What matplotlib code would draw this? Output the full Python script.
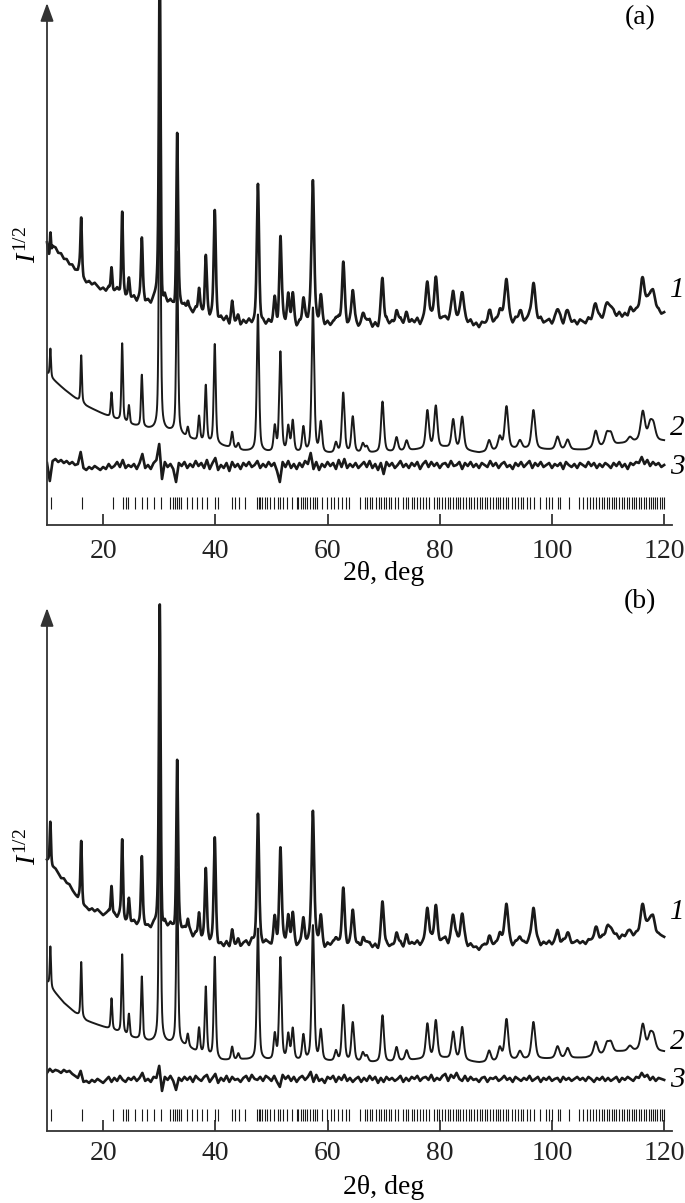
import numpy as np
import matplotlib
matplotlib.use('Agg')
import matplotlib.pyplot as plt

# шрифты: Times-подобный, I курсивом
plt.rcParams['font.family'] = ['Liberation Serif', 'DejaVu Serif']
plt.rcParams['mathtext.fontset'] = 'custom'
plt.rcParams['mathtext.rm'] = 'Liberation Serif'
plt.rcParams['mathtext.it'] = 'Liberation Serif:italic'

# ---------------- данные (I^1/2, усл. ед.) ----------------
peak_pos = [10.6, 16.1, 21.5, 23.4, 24.6, 26.9, 30.1, 33.2, 35.1, 37.1,
            38.3, 39.9, 43.0, 44.1, 47.6, 50.6, 51.6, 53.0, 53.8, 55.7,
            57.4, 58.8, 61.5, 62.8, 64.5, 66.3, 67.0, 69.8, 72.3, 74.1,
            77.8, 79.3, 82.4, 84.0, 88.8, 90.7, 91.9, 94.3, 96.7, 101.0,
            102.8, 107.8, 109.8, 110.5, 113.9, 116.2, 117.5, 118.1]
peak_h_a = [28, 47, 25, 78, 18, 52, 330, 182, 10, 25,
            57, 100, 16, 6, 137, 25, 100, 25, 31, 25,
            145, 30, 10, 60, 36, 9, 6, 51, 14, 10,
            38, 42, 29, 33, 11, 13, 43, 8, 39, 13,
            10, 17, 12, 11, 5, 29, 15, 14]
peak_h_b = [40, 55, 31, 79, 22, 63, 314, 175, 12, 25,
            68, 101, 13, 6, 131, 25, 102, 25, 31, 25,
            135, 30, 10, 56, 39, 9, 6, 47, 14, 10,
            35, 38, 27, 33, 11, 13, 41, 8, 37, 12,
            10, 14, 10, 10, 5, 26, 14, 13]

bg_deg = [10, 11, 13, 15, 17, 20, 22, 25, 28, 32, 35, 37, 41, 45,
          50, 60, 70, 76, 81, 87, 90, 94, 100, 106, 112, 116, 120]
bg_a = [152, 146, 136, 127, 119, 111, 106, 100, 96, 93, 87, 83, 79, 74,
        72, 71, 72, 75, 77, 72, 74, 76, 75, 75, 81, 84, 84]
bg_b = [149, 141, 128, 118, 110, 104, 100, 93, 89, 87, 84, 77, 70, 71,
        70, 69, 68, 71, 72, 68, 69, 71, 72, 73, 79, 80, 79]

# разностная кривая, шаг 0.5 град от 10 до 120
diff_a = [2, -16, 4, 6, 3, 5, 2, 4, 1, 3,
          0, 1, 13, -3, -5, -2, -4, -1, -3, -5,
          -2, -4, 1, -3, -1, 3, -2, 5, -3, 0,
          -2, 1, -4, 2, 11, -3, 0, -4, 2, 5,
          21, -14, 3, -2, 1, -4, -17, 2, -1, 3,
          -3, 1, -2, 4, -1, 2, -3, 5, -4, 2,
          7, -5, 0, -3, 2, -6, 3, -2, 1, -4,
          2, -1, 3, -2, 0, 4, -3, 1, -2, 3,
          -1, 2, -6, -17, 3, -2, 4, -3, 1, -4,
          2, -2, 4, 1, 12, -4, 3, -5, 1, -2,
          3, -1, 2, -4, 5, -2, 6, -3, 1, -2,
          2, -3, 0, 3, -2, 4, -3, 1, -5, 2,
          -9, 3, -1, 2, -3, 0, 4, -2, 1, -3,
          2, -1, 3, -4, 1, 4, -2, 3, -1, 2,
          -3, 1, 2, -2, 4, -1, 0, 3, -4, 2,
          -1, 3, -2, 1, -3, 2, 0, -2, 4, -1,
          2, -3, 1, 3, -2, 0, -4, 2, -1, 3,
          -2, 1, 4, -3, 2, -1, 3, -2, 0, 2,
          -3, 1, -1, 2, -4, 3, 0, -2, 1, -3,
          2, 0, -2, 3, -1, 2, -3, 1, -2, 2,
          0, -3, 2, -1, 3, -2, 1, -4, 2, 0,
          3, 2, 8, 1, 5, -1, 3, 0, 2, -2,
          0]
diff_b = [6, 10, 7, 9, 8, 6, 9, 7, 8, 5,
          3, 1, 8, -3, -2, -4, -1, -3, 0, -2,
          -4, -1, 2, -3, 1, -2, 3, -1, -3, 1,
          -1, 2, -2, 1, 6, -2, 0, -3, 2, 1,
          13, -12, 2, -1, 3, -2, -11, 1, -2, 2,
          -1, 2, -3, 3, 0, -2, 2, 4, -3, 1,
          5, -4, 1, -2, 3, -3, 2, -1, 0, -3,
          1, 3, -2, 4, 0, -1, 2, -2, 3, 1,
          -2, 3, -3, -8, 4, 0, 3, -2, 2, -3,
          1, 3, -1, 2, 7, -3, 4, -2, 0, -4,
          2, 0, 3, -3, 2, -1, 4, -2, 1, -3,
          0, 2, -3, 1, -2, 3, -1, 2, -4, 1,
          -3, 2, -1, 1, -2, 0, 3, -3, 1, -2,
          2, 0, 3, -2, 1, 2, -1, 4, -2, 1,
          -1, 3, 5, -2, 4, 1, 6, 0, -2, 3,
          -2, 2, -1, 0, -3, 1, 2, -3, 1, 0,
          2, -2, 0, 3, -1, 1, -3, 2, 0, -2,
          1, -1, 3, -2, 0, 2, -3, 1, -1, 2,
          -2, 0, 1, -3, 2, -1, 1, -2, 0, 2,
          -1, 1, -2, 2, 0, -3, 1, -1, 2, -2,
          1, -2, 0, 2, -3, 1, -1, 2, 0, -2,
          2, 1, 6, 2, 4, -1, 2, -2, 1, 0,
          -1]

# положения брэгговских рефлексов (штрихи)
refl_pos = [10.7, 16.2, 21.7, 23.5, 24.0, 24.5, 25.6, 26.9, 27.9, 29.1,
            30.3, 32.0, 32.4, 32.8, 33.1, 33.5, 33.8, 34.9, 35.8, 36.7,
            37.6, 38.5, 40.0, 40.4, 42.9, 43.5, 44.3, 45.3, 47.4, 47.7,
            48.0, 48.4, 48.9, 49.2, 49.8, 50.4, 51.1, 51.5, 52.0, 52.7,
            53.6, 54.5, 54.8, 55.2, 55.7, 56.0, 56.4, 56.9, 57.4, 57.8,
            58.1, 59.0, 59.9, 60.7, 61.2, 61.9, 62.5, 63.3, 63.9, 65.8,
            66.7, 67.1, 67.5, 68.0, 68.6, 69.1, 69.5, 70.0, 70.4, 71.0,
            71.4, 72.0, 72.6, 73.5, 74.0, 74.4, 75.0, 75.4, 75.9, 76.4,
            77.0, 77.6, 78.1, 78.9, 79.5, 79.9, 80.4, 80.9, 81.4, 81.8,
            82.3, 82.9, 83.3, 83.7, 84.2, 84.7, 85.2, 85.6, 86.1, 86.6,
            87.1, 87.5, 88.0, 88.5, 88.9, 89.5, 90.0, 90.4, 90.8, 91.3,
            91.8, 92.2, 92.8, 93.4, 94.0, 94.4, 94.9, 95.5, 96.1, 96.8,
            97.8, 98.9, 99.5, 100.1, 101.0, 101.4, 103.1, 104.9, 105.6, 106.2,
            106.8, 107.4, 107.9, 108.3, 108.9, 109.3, 109.8, 110.2, 110.7, 111.1,
            111.5, 112.0, 112.4, 112.9, 113.3, 113.8, 114.2, 114.6, 115.0, 115.5,
            115.9, 116.4, 116.8, 117.3, 117.6, 118.0, 118.4, 118.8, 119.2, 119.6,
            119.9]

xticks = [20, 40, 60, 80, 100, 120]
diff_deg = np.arange(10, 120.01, 0.5)
x = np.linspace(10, 120, 5501)
clr = '#1a1a1a'


def profile(pos, h):
    # псевдо-Войт, ширина растёт с углом
    y = np.zeros_like(x)
    for p, a in zip(pos, h):
        w = 0.25 + 0.006 * (p - 10)
        t = ((x - p) / w) ** 2
        y += a * (0.5 * np.exp(-4 * np.log(2) * t) + 0.5 / (1 + 4 * t))
    return y


def panel(ax, heights, bg, diff, off1, off3, tick_lo, tick_hi, pad):
    calc = np.interp(x, bg_deg, bg) + profile(peak_pos, heights)
    obs = calc + off1 + np.interp(x, diff_deg, diff)
    ax.plot(x, obs, color=clr, lw=1.9, clip_on=False)
    ax.plot(x, calc, color=clr, lw=1.4)
    ax.plot(diff_deg, np.array(diff) + off3, color=clr, lw=1.9)
    ax.vlines(refl_pos, tick_lo, tick_hi, color=clr, lw=0.8)

    ax.set_xlim(10, 121.4)
    ax.set_ylim(0, 522)
    for s in ['top', 'right', 'left']:
        ax.spines[s].set_visible(False)
    ax.spines['bottom'].set_linewidth(1.3)
    ax.spines['bottom'].set_color('#333333')
    ax.set_yticks([])
    ax.set_xticks(xticks)
    ax.set_xticklabels([str(t) for t in xticks])
    ax.tick_params(axis='x', direction='in', length=8, width=1.2,
                   labelsize=20, pad=pad, colors='#222222')
    # ось со стрелкой
    ax.annotate('', xy=(0, 1.0), xytext=(0, 0), xycoords='axes fraction',
                arrowprops=dict(arrowstyle='-|>,head_length=0.55,head_width=0.2',
                                color='#333333', lw=1.3, mutation_scale=20,
                                shrinkA=0, shrinkB=0))


fig = plt.figure(figsize=(6.85, 12.03), dpi=100)
W, H = 685.0, 1203.0

ax_a = fig.add_axes([47 / W, 678 / H, 625 / W, 522 / H])
panel(ax_a, peak_h_a, bg_a, diff_a, 128, 60, 16, 28, 10)

ax_b = fig.add_axes([47 / W, 72 / H, 625 / W, 523 / H])
panel(ax_b, peak_h_b, bg_b, diff_b, 115, 52, 10, 22, 7)

# подписи
for ylab, yx, ypan, ycur in [('(a)', 574, 18, (290, 428, 467)),
                             ('(b)', 1187, 602, (912, 1042, 1080))]:
    fig.text(384 / W, 1 - yx / H, '2θ, deg', ha='center', va='center', fontsize=20)
    fig.text(640 / W, 1 - ypan / H, ylab, ha='center', va='center', fontsize=20)
    for num, yy in zip(['1', '2', '3'], ycur):
        fig.text(677 / W, 1 - yy / H, num, ha='center', va='center',
                 fontsize=21, style='italic')

fig.text(28 / W, 1 - 245 / H, r'$I^{1/2}$', rotation=90, ha='center',
         va='center', fontsize=20)
fig.text(28 / W, 1 - 847 / H, r'$I^{1/2}$', rotation=90, ha='center',
         va='center', fontsize=20)

fig.savefig('out.png', dpi=100)
